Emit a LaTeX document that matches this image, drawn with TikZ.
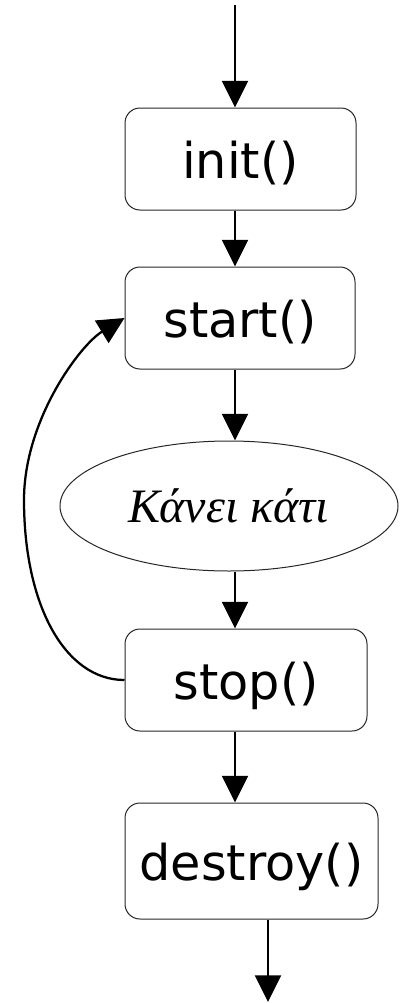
\documentclass[tikz,border=0pt]{standalone}
\usepackage{fontspec}
\setmainfont{DejaVu Sans}
\newfontfamily\grkfont{Liberation Serif}
\usetikzlibrary{arrows.meta,shapes.geometric}
\begin{document}
\begin{tikzpicture}[x=0.75pt,y=-0.75pt,
  box/.style={draw=black!85, line width=0.75pt, rounded corners=11.25pt, inner sep=0pt,
    font=\fontsize{37}{42}\selectfont, text height=28.5pt, text depth=0pt},
  ellbox/.style={ellipse, draw=black!85, line width=0.75pt, inner sep=0pt,
    font=\grkfont\itshape\fontsize{36}{40}\selectfont, text height=24pt, text depth=0pt},
  arr/.style={line width=1.7pt, -{Triangle[length=20pt,width=19.5pt]}},
]
\useasboundingbox (0,0) rectangle (401,1003);
\node[box, minimum width=173.25pt, minimum height=76.5pt] (init) at (240.5,159) {init()};
\node[box, minimum width=172.5pt, minimum height=76.5pt] (start) at (240,318) {start()};
\node[ellbox, minimum width=253.5pt, minimum height=97.5pt] (ell) at (229,506) {Κάνει κάτι};
\node[box, minimum width=181.5pt, minimum height=76.5pt] (stop) at (246,680) {stop()};
\node[box, minimum width=189.75pt, minimum height=87pt] (destroy) at (251.5,861) {destroy()};
\coordinate (entry) at (235,5);
\coordinate (exit) at (268,1002);
\draw[arr] (entry) -- (init.north -| entry);
\draw[arr] (init.south -| entry) -- (start.north -| entry);
\draw[arr] (start.south -| entry) -- (ell.north -| entry);
\draw[arr] (ell.south -| entry) -- (stop.north -| entry);
\draw[arr] (stop.south -| entry) -- (destroy.north -| entry);
\draw[arr] (destroy.south -| exit) -- (exit);
\draw[arr] (stop.west) .. controls (65,680) and (24,605) .. (24,500)
  .. controls (24,420) and (80,345) .. (start.west);
\end{tikzpicture}
\end{document}
